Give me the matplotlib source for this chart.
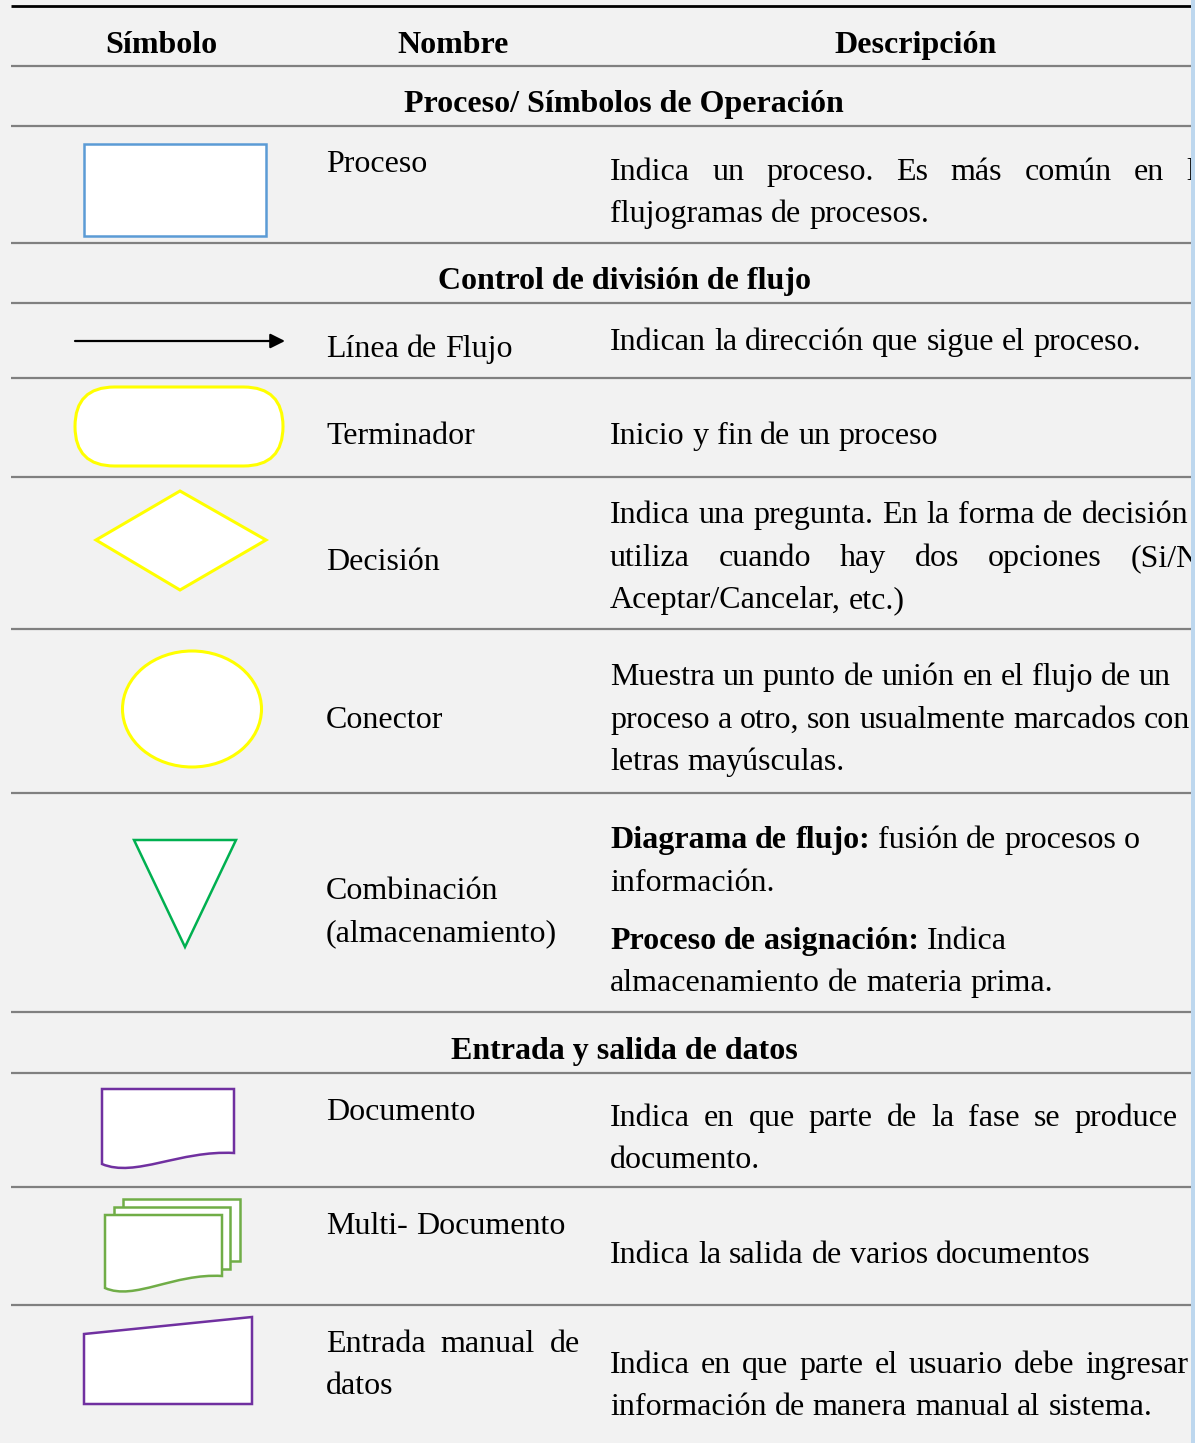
import matplotlib
matplotlib.use("Agg")
import matplotlib.pyplot as plt
from matplotlib.patches import Rectangle, Polygon, Ellipse, FancyBboxPatch, PathPatch
from matplotlib.path import Path

# --- table content ---
headers = ["Símbolo", "Nombre", "Descripción"]
sections = ["Proceso/ Símbolos de Operación",
            "Control de división de flujo",
            "Entrada y salida de datos"]
names = [
    ["Proceso"],
    ["Línea de Flujo"],
    ["Terminador"],
    ["Decisión"],
    ["Conector"],
    ["Combinación", "(almacenamiento)"],
    ["Documento"],
    ["Multi- Documento"],
    ["|Entrada manual de", "datos"],
]
# "**...**" marks bold runs, "|" = justified to the column edge,
# ">" = justified to the visible edge
descriptions = [
    ["|Indica un proceso. Es más común en los", "flujogramas de procesos."],
    ["Indican la dirección que sigue el proceso."],
    ["Inicio y fin de un proceso"],
    ["|Indica una pregunta. En la forma de decisión se",
     "|utiliza cuando hay dos opciones (Si/No,",
     "Aceptar/Cancelar, etc.)"],
    ["Muestra un punto de unión en el flujo de un",
     "proceso a otro, son usualmente marcados con",
     "letras mayúsculas."],
    ["**Diagrama de flujo:** fusión de procesos o", "información.",
     "**Proceso de asignación:** Indica", "almacenamiento de materia prima."],
    ["|Indica en que parte de la fase se produce un", "documento."],
    ["Indica la salida de varios documentos"],
    [">Indica en que parte el usuario debe ingresar",
     "información de manera manual al sistema."],
]

# --- layout (pixels) ---
W, H = 1202, 1443
CLIP_X = 1191
BG = "#f2f2f2"
FONT = "Liberation Serif"
FS = 23
rules = [66, 126, 243, 303, 378, 477, 629, 793, 1012, 1073, 1187, 1305]
header_x = [161, 453, 916]
header_base = 53
section_base = [112, 289, 1059]
name_x, desc_x = 326, 610
name_right, desc_right, vis_right = 580, 1224, 1188
name_base = [[172], [357], [444], [570], [728], [899, 941], [1120], [1234], [1352, 1394]]
desc_base = [[180, 222], [350], [444], [523, 566, 608], [685, 728, 770],
             [848, 891, 949, 991], [1126, 1168], [1263], [1373, 1415]]

fig = plt.figure(figsize=(W / 100, H / 100), dpi=100)
fig.patch.set_facecolor("white")
ax = fig.add_axes([0, 0, CLIP_X / W, 1])
ax.set_xlim(0, CLIP_X)
ax.set_ylim(H, 0)
ax.axis("off")
ax.add_patch(Rectangle((0, 0), CLIP_X, H, facecolor=BG, edgecolor="none", zorder=0))
# light blue frame edge on the right
fig.patches.append(Rectangle((CLIP_X / W, 0), 4 / W, 1, transform=fig.transFigure,
                             facecolor="#bdd7ee", edgecolor="none"))

renderer = fig.canvas.get_renderer()


def width_of(s, bold):
    t = ax.text(0, 0, s, fontsize=FS, family=FONT, weight="bold" if bold else "normal")
    w = t.get_window_extent(renderer).width
    t.remove()
    return w


SPACE = width_of("x x", False) - width_of("xx", False)


def put_line(x, y, line, right):
    justify = line[:1] in ("|", ">")
    if line.startswith(">"):
        right = vis_right
    line = line.lstrip("|>")
    words = []
    parts = line.split("**")
    for i, part in enumerate(parts):
        for w in part.split():
            words.append((w, i % 2 == 1))
    widths = [width_of(w, b) for w, b in words]
    gap = SPACE
    if justify and len(words) > 1:
        gap = (right - x - sum(widths)) / (len(words) - 1)
    cx = x
    for (w, b), wd in zip(words, widths):
        ax.text(cx, y, w, fontsize=FS, family=FONT, weight="bold" if b else "normal",
                va="baseline", ha="left", clip_on=True, color="black")
        cx += wd + gap


# rules
ax.plot([11, CLIP_X], [6, 6], color="black", lw=2, solid_capstyle="butt")
for y in rules:
    ax.plot([11, CLIP_X], [y, y], color="#808080", lw=1.6, solid_capstyle="butt")

for hx, h in zip(header_x, headers):
    ax.text(hx, header_base, h, fontsize=FS, family=FONT, weight="bold",
            ha="center", va="baseline")
for yb, s in zip(section_base, sections):
    ax.text(624, yb, s, fontsize=FS, family=FONT, weight="bold",
            ha="center", va="baseline")

for lines, ys in zip(names, name_base):
    for line, y in zip(lines, ys):
        put_line(name_x, y, line, name_right)
for lines, ys in zip(descriptions, desc_base):
    for line, y in zip(lines, ys):
        put_line(desc_x, y, line, desc_right)

# symbols
lw = 1.8
ylw = 2.2
ax.add_patch(Rectangle((84, 144), 182, 92, facecolor="white", edgecolor="#5b9bd5", lw=lw))
ax.annotate("", xy=(285, 341), xytext=(75, 341),
            arrowprops=dict(arrowstyle="-|>", color="black", lw=1.6,
                            mutation_scale=22, shrinkA=0, shrinkB=0))
ax.add_patch(FancyBboxPatch((75, 387), 208, 79, boxstyle="round,pad=0,rounding_size=39.5",
                            facecolor="white", edgecolor="#ffff00", lw=ylw))
ax.add_patch(Polygon([(96, 540), (180, 491), (266, 540), (180, 590)], closed=True,
                     facecolor="white", edgecolor="#ffff00", lw=ylw))
ax.add_patch(Ellipse((192, 709), 139, 116, facecolor="white", edgecolor="#ffff00", lw=ylw))
ax.add_patch(Polygon([(134, 840), (236, 840), (185, 947)], closed=True,
                     facecolor="white", edgecolor="#00b050", lw=lw))


def doc_path(x0, x1, top, right_bot, left_bot, dip):
    span = x1 - x0
    verts = [(x0, top), (x1, top), (x1, right_bot),
             (x1 - 0.41 * span, right_bot - 3), (x0 + 0.25 * span, left_bot + dip),
             (x0, left_bot), (x0, top)]
    codes = [Path.MOVETO, Path.LINETO, Path.LINETO,
             Path.CURVE4, Path.CURVE4, Path.CURVE4, Path.CLOSEPOLY]
    return Path(verts, codes)


purple = "#7030a0"
green = "#70ad47"
ax.add_patch(PathPatch(doc_path(102, 234, 1089, 1153, 1164, 14),
                       facecolor="white", edgecolor=purple, lw=lw))
ax.add_patch(Rectangle((123, 1199), 117, 62, facecolor="white", edgecolor=green, lw=lw))
ax.add_patch(Rectangle((114, 1207), 116, 62, facecolor="white", edgecolor=green, lw=lw))
ax.add_patch(PathPatch(doc_path(105, 222, 1215, 1276, 1288, 13),
                       facecolor="white", edgecolor=green, lw=lw))
ax.add_patch(Polygon([(84, 1334), (252, 1317), (252, 1404), (84, 1404)], closed=True,
                     facecolor="white", edgecolor=purple, lw=lw))

fig.savefig("out.png", dpi=100, facecolor="white")
